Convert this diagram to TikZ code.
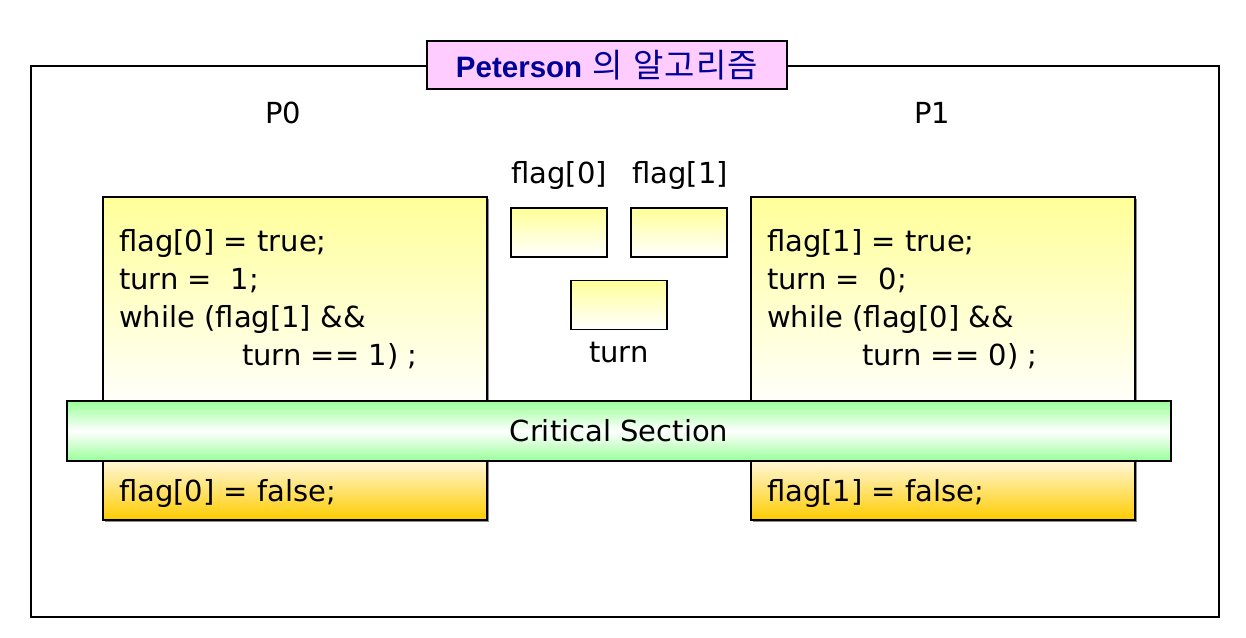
\documentclass[tikz,border=0pt]{standalone}
\usepackage{fontspec}
\usetikzlibrary{shadows}
\setmainfont{DejaVu Sans}
\newfontfamily\titlefont{Liberation Sans}
\newfontfamily\krfont{Noto Sans CJK KR}
\definecolor{paleyellow}{RGB}{255,255,153}
\definecolor{gold}{RGB}{255,204,0}
\definecolor{palegreen}{RGB}{153,255,153}
\definecolor{pink}{RGB}{255,204,255}
\definecolor{navy}{RGB}{0,0,153}
\tikzset{
  frame/.style={draw=black, line width=2pt},
  shad/.style={drop shadow={shadow xshift=1.5pt, shadow yshift=-2pt, fill=black!45, opacity=1}},
  upbox/.style={draw=black, line width=2pt, rectangle, inner sep=0pt, top color=paleyellow, bottom color=white, shad},
  lowbox/.style={draw=black, line width=2pt, rectangle, inner sep=0pt, top color=white, bottom color=gold, shad},
  varbox/.style={draw=black, line width=1.6pt, rectangle, inner sep=0pt, minimum width=96pt, minimum height=49pt, top color=paleyellow, bottom color=white},
  csbar/.style={draw=black, line width=2pt, rectangle, inner sep=0pt, top color=palegreen, bottom color=palegreen, middle color=white},
  code/.style={anchor=base west, inner sep=0pt, font=\fontsize{29}{32}\selectfont},
  lbl/.style={inner sep=0pt, font=\fontsize{29}{32}\selectfont},
}
\begin{document}
\begin{tikzpicture}[x=1pt,y=-1pt]
\useasboundingbox (0,0) rectangle (1246,637);
% outer frame
\node[frame, rectangle, inner sep=0pt, minimum width=1188pt, minimum height=551pt] (outer) at (625,341.5) {};
% title
\node[draw=black, line width=2pt, fill=pink, rectangle, inner sep=0pt, minimum width=360pt, minimum height=48pt,
      text=navy] (title) at (607,65)
      {\fontsize{29.5}{32}\selectfont\titlefont\bfseries Peterson\hspace{10pt}\fontsize{33}{34}\selectfont\krfont\mdseries 의\hspace{11pt}알\hspace{1pt}고\hspace{1pt}리\hspace{1pt}즘};
% process labels
\node[lbl] (p0) at (283,113) {P0};
\node[lbl] (p1) at (932,113) {P1};
% code boxes
\node[upbox, minimum width=384pt, minimum height=214pt] (upL) at (295,304) {};
\node[upbox, minimum width=384pt, minimum height=214pt] (upR) at (943,304) {};
\node[lowbox, minimum width=384pt, minimum height=70pt] (loL) at (295,485) {};
\node[lowbox, minimum width=384pt, minimum height=70pt] (loR) at (943,485) {};
% critical section bar
\node[csbar, minimum width=1104pt, minimum height=60pt, font=\fontsize{29}{32}\selectfont] (cs) at (619,431) {Critical Section};
% shared variables
\node[lbl] (f0lbl) at (559,175) {flag[0]};
\node[lbl] (f1lbl) at (680,175) {flag[1]};
\node[varbox] (f0) at (559,232.5) {};
\node[varbox] (f1) at (679,232.5) {};
\node[varbox] (turnbox) at (619,305) {};
\node[lbl] (turnlbl) at (619,353) {turn};
% left code
\node[code] (l1) at (119,251) {flag[0] = true;};
\node[code] (l2) at (119,289) {turn =\ \ 1;};
\node[code] (l3) at (119,327) {while (flag[1] \&\&};
\node[code] (l4) at (242,365) {turn == 1) ;};
\node[code] (l5) at (119,501) {flag[0] = false;};
% right code
\node[code] (r1) at (767,251) {flag[1] = true;};
\node[code] (r2) at (767,289) {turn =\ \ 0;};
\node[code] (r3) at (767,327) {while (flag[0] \&\&};
\node[code] (r4) at (862,365) {turn == 0) ;};
\node[code] (r5) at (767,501) {flag[1] = false;};
\end{tikzpicture}
\end{document}
